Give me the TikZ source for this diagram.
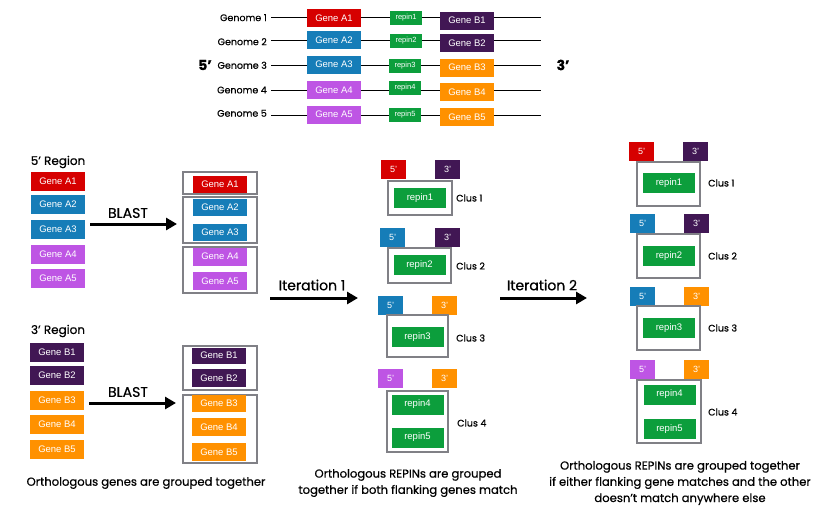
\documentclass[tikz,border=0pt]{standalone}
\usepackage{fontspec}
\setmainfont{Liberation Sans}
\newfontfamily\futfont[FakeBold=0.6]{Poppins}
\usetikzlibrary{arrows.meta}
\definecolor{cred}{RGB}{214,0,0}
\definecolor{cblue}{RGB}{22,125,184}
\definecolor{cmag}{RGB}{190,85,228}
\definecolor{cdpur}{RGB}{65,23,84}
\definecolor{corange}{RGB}{255,145,0}
\definecolor{cgreen}{RGB}{12,158,60}
\definecolor{cgray}{RGB}{128,128,134}
\tikzset{
  gene/.style={rectangle, inner sep=0pt, minimum width=54, minimum height=18, text=white, font=\fontsize{9.5}{10}\selectfont},
  toprep/.style={rectangle, inner sep=0pt, fill=cgreen, minimum width=32, minimum height=14, text=white, font=\fontsize{7.5}{8}\selectfont},
  rep/.style={rectangle, inner sep=0pt, fill=cgreen, minimum width=52, minimum height=20, text=white, font=\fontsize{9.5}{10}\selectfont},
  flank/.style={rectangle, inner sep=0pt, minimum width=25, minimum height=19, text=white, font=\fontsize{9}{10}\selectfont},
  grp/.style={rectangle, draw=cgray, line width=2.5pt, inner sep=0pt},
  fut/.style={inner sep=0pt, font=\futfont\fontsize{9.5}{11}\selectfont},
  lbl/.style={inner sep=0pt, font=\futfont\fontsize{12}{13}\selectfont},
  arrlbl/.style={inner sep=0pt, font=\futfont\fontsize{14}{16}\selectfont},
  captxt/.style={inner sep=0pt, align=center, font=\futfont\fontsize{11.6}{16.2}\selectfont},
  big/.style={inner sep=0pt, font=\futfont\bfseries\fontsize{14}{16}\selectfont},
  genomeline/.style={line width=0.8pt, black},
  bigarrow/.style={line width=3pt, -{Triangle[length=11pt,width=12pt]}},
}
\begin{document}
\begin{tikzpicture}[x=1pt,y=-1pt]
\useasboundingbox (0,0) rectangle (814,514);
% ---------- top: genomes ----------
\foreach \i/\y/\ly in {1/17.7/17.7,2/40.7/41.7,3/65.3/65.3,4/90/90,5/115.7/113.3}{
  \node[fut, anchor=east] (gn\i) at (267,\ly) {Genome \i};
  \coordinate (ls\i) at (271,\y);
  \coordinate (le\i) at (541,\y);
  \draw[genomeline] (ls\i) -- (le\i);
}
\node[gene, fill=cred]    (ta1) at (334,18)   {Gene A1};
\node[gene, fill=cblue]   (ta2) at (334,40)   {Gene A2};
\node[gene, fill=cblue]   (ta3) at (334,64.5) {Gene A3};
\node[gene, fill=cmag]    (ta4) at (334,90)   {Gene A4};
\node[gene, fill=cmag]    (ta5) at (334,114.5){Gene A5};
\node[toprep] (tr1) at (406,17.5) {repin1};
\node[toprep] (tr2) at (406,41)   {repin2};
\node[toprep] (tr3) at (405,65.5) {repin3};
\node[toprep] (tr4) at (405,88)   {repin4};
\node[toprep] (tr5) at (405,115)  {repin5};
\node[gene, fill=cdpur]   (tb1) at (467,20.5) {Gene B1};
\node[gene, fill=cdpur]   (tb2) at (467,43)   {Gene B2};
\node[gene, fill=corange] (tb3) at (467,67.5) {Gene B3};
\node[gene, fill=corange] (tb4) at (467,92)   {Gene B4};
\node[gene, fill=corange] (tb5) at (467,117)  {Gene B5};
\node[big] (five) at (205,65) {5’};
\node[big] (three) at (563,65) {3’};
% ---------- left: 5' region ----------
\node[lbl] (r5) at (58,162) {5’ Region};
\node[gene, fill=cred,  minimum height=19] (la1) at (58,181.5) {Gene A1};
\node[gene, fill=cblue, minimum height=19] (la2) at (58,204)   {Gene A2};
\node[gene, fill=cblue, minimum height=19] (la3) at (58,229)   {Gene A3};
\node[gene, fill=cmag,  minimum height=19] (la4) at (58,254)   {Gene A4};
\node[gene, fill=cmag,  minimum height=19] (la5) at (58,278)   {Gene A5};
\coordinate (b1s) at (90,224); \coordinate (b1e) at (177,224);
\draw[bigarrow] (b1s) -- (b1e);
\node[arrlbl] (bl1) at (128,213) {BLAST};
\node[grp, minimum width=74, minimum height=22] (ga1) at (220,183) {};
\node[grp, minimum width=74, minimum height=46] (ga2) at (220,220) {};
\node[grp, minimum width=74, minimum height=46] (ga3) at (220,270) {};
\node[gene, fill=cred,  minimum height=17] (ra1) at (220,184)   {Gene A1};
\node[gene, fill=cblue, minimum height=17] (ra2) at (220,207.5) {Gene A2};
\node[gene, fill=cblue, minimum height=17] (ra3) at (220,232)   {Gene A3};
\node[gene, fill=cmag,  minimum height=18] (ra4) at (220,256.5) {Gene A4};
\node[gene, fill=cmag,  minimum height=18] (ra5) at (220,281)   {Gene A5};
% ---------- left: 3' region ----------
\node[lbl] (r3) at (58,331) {3’ Region};
\node[gene, fill=cdpur,   minimum height=19] (lb1) at (57,352)   {Gene B1};
\node[gene, fill=cdpur,   minimum height=19] (lb2) at (57,375)   {Gene B2};
\node[gene, fill=corange, minimum height=19] (lb3) at (57,400)   {Gene B3};
\node[gene, fill=corange, minimum height=19] (lb4) at (57,424.5) {Gene B4};
\node[gene, fill=corange, minimum height=19] (lb5) at (57,449)   {Gene B5};
\coordinate (b2s) at (89,403); \coordinate (b2e) at (176,403);
\draw[bigarrow] (b2s) -- (b2e);
\node[arrlbl] (bl2) at (128,392) {BLAST};
\node[grp, minimum width=74, minimum height=44] (gb1) at (220,368) {};
\node[grp, minimum width=74, minimum height=68] (gb2) at (220,429) {};
\node[gene, fill=cdpur,   minimum height=16] (rb1) at (219,355.5) {Gene B1};
\node[gene, fill=cdpur,   minimum height=18] (rb2) at (219,378)   {Gene B2};
\node[gene, fill=corange, minimum height=17] (rb3) at (219,403.5) {Gene B3};
\node[gene, fill=corange, minimum height=18] (rb4) at (219,427)   {Gene B4};
\node[gene, fill=corange, minimum height=18] (rb5) at (219,452)   {Gene B5};
\node[captxt] (c1) at (146,483) {Orthologous genes are grouped together};
% ---------- iteration arrows ----------
\coordinate (i1s) at (270,298); \coordinate (i1e) at (358,298);
\draw[bigarrow] (i1s) -- (i1e);
\node[arrlbl] (it1) at (312,285) {Iteration 1};
\coordinate (i2s) at (500,298); \coordinate (i2e) at (587,298);
\draw[bigarrow] (i2s) -- (i2e);
\node[arrlbl] (it2) at (542,285) {Iteration 2};
% ---------- middle clusters ----------
\node[flank, fill=cred]  (m1f) at (393.5,169.5) {5’};
\node[flank, fill=cdpur] (m1t) at (447.5,169.5) {3’};
\node[grp, minimum width=64, minimum height=34] (m1g) at (420,198) {};
\node[rep] (m1r) at (420,198) {repin1};
\node[fut, anchor=west] (m1c) at (456,198) {Clus 1};

\node[flank, fill=cblue] (m2f) at (392.5,237) {5’};
\node[flank, fill=cdpur] (m2t) at (447.5,237) {3’};
\node[grp, minimum width=63, minimum height=35] (m2g) at (419.5,265.5) {};
\node[rep] (m2r) at (419.5,265) {repin2};
\node[fut, anchor=west] (m2c) at (456,266) {Clus 2};

\node[flank, fill=cblue]   (m3f) at (390.5,305) {5’};
\node[flank, fill=corange] (m3t) at (444.5,305) {3’};
\node[grp, minimum width=61, minimum height=42] (m3g) at (417.5,336) {};
\node[rep] (m3r) at (417.5,337) {repin3};
\node[fut, anchor=west] (m3c) at (456,338) {Clus 3};

\node[flank, fill=cmag]    (m4f) at (390.5,378.5) {5’};
\node[flank, fill=corange] (m4t) at (444.5,378.5) {3’};
\node[grp, minimum width=61, minimum height=61] (m4g) at (417.5,421.5) {};
\node[rep] (m4r) at (417.5,404.5) {repin4};
\node[rep] (m5r) at (417.5,437.5) {repin5};
\node[fut, anchor=west] (m4c) at (457,423) {Clus 4};
\node[captxt] (c2) at (408,483) {Orthologous REPINs are grouped\\together if both flanking genes match};
% ---------- right clusters ----------
\node[flank, fill=cred]  (n1f) at (641.5,151.5) {5’};
\node[flank, fill=cdpur] (n1t) at (695.5,151.5) {3’};
\node[grp, minimum width=63, minimum height=44] (n1g) at (668.5,184) {};
\node[rep] (n1r) at (669,183) {repin1};
\node[fut, anchor=west] (n1c) at (708,183) {Clus 1};

\node[flank, fill=cblue] (n2f) at (642.5,223.5) {5’};
\node[flank, fill=cdpur] (n2t) at (696.5,223.5) {3’};
\node[grp, minimum width=63, minimum height=44] (n2g) at (668.5,256) {};
\node[rep] (n2r) at (669,256) {repin2};
\node[fut, anchor=west] (n2c) at (708,256) {Clus 2};

\node[flank, fill=cblue]   (n3f) at (642.5,296) {5’};
\node[flank, fill=corange] (n3t) at (696.5,296) {3’};
\node[grp, minimum width=63, minimum height=44] (n3g) at (668.5,328) {};
\node[rep] (n3r) at (669,328) {repin3};
\node[fut, anchor=west] (n3c) at (708,328) {Clus 3};

\node[flank, fill=cmag]    (n4f) at (642.5,369.5) {5’};
\node[flank, fill=corange] (n4t) at (696.5,369.5) {3’};
\node[grp, minimum width=64, minimum height=63] (n4g) at (669,411.5) {};
\node[rep] (n4r) at (669.5,394.5) {repin4};
\node[rep] (n5r) at (669.5,429) {repin5};
\node[fut, anchor=west] (n4c) at (708,412) {Clus 4};
\node[captxt] (c3) at (680,483) {Orthologous REPINs are grouped together\\if either flanking gene matches and the other\\doesn’t match anywhere else};
\end{tikzpicture}
\end{document}
